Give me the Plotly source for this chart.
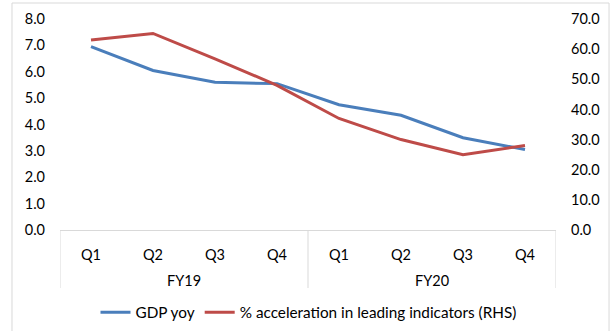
import plotly.graph_objects as go

years = ["FY19"] * 4 + ["FY20"] * 4
quarters = ["Q1", "Q2", "Q3", "Q4", "Q1", "Q2", "Q3", "Q4"]
gdp_yoy = [6.95, 6.05, 5.6, 5.55, 4.75, 4.35, 3.5, 3.05]
leading_accel = [63.0, 65.2, 56.8, 48.0, 37.0, 30.0, 25.0, 28.0]

FONT = "Lato"
FS = 14.5
GRID = "#d9d9d9"
cats = [f"{y} {q}" for y, q in zip(years, quarters)]

fig = go.Figure()
fig.add_trace(go.Scatter(x=cats, y=gdp_yoy, mode="lines", name="GDP yoy",
                         line=dict(color="#4a7ebb", width=3)))
fig.add_trace(go.Scatter(x=cats, y=leading_accel, mode="lines",
                         name="% acceleration in leading indicators (RHS)",
                         line=dict(color="#be4b48", width=3), yaxis="y2"))

# group labels and dividers from the category positions
groups = []
for i, y in enumerate(years):
    if not groups or groups[-1][0] != y:
        groups.append([y, i, i])
    else:
        groups[-1][2] = i

annotations = []
shapes = []
for name, a, b in groups:
    annotations.append(dict(x=(a + b) / 2, y=-0.237, xref="x", yref="paper", text=name,
                            showarrow=False, yanchor="middle", font=dict(size=FS)))
bounds = [groups[0][1] - 0.5] + [g[2] + 0.5 for g in groups]
for bx in bounds:
    shapes.append(dict(type="line", xref="x", yref="paper", x0=bx, x1=bx, y0=0, y1=-0.275,
                       line=dict(color=GRID, width=1)))
shapes.append(dict(type="rect", xref="paper", yref="paper", x0=-0.0968, x1=1.1069,
                   y0=-0.6, y1=1.0758, line=dict(color=GRID, width=1), layer="below"))

fig.update_layout(
    width=613, height=331,
    margin=dict(l=60, r=57, t=19, b=101, autoexpand=False),
    paper_bgcolor="white", plot_bgcolor="white",
    font=dict(family=FONT, size=FS, color="#000000"),
    showlegend=True,
    legend=dict(orientation="h", x=0.501, xanchor="center", y=-0.39, yanchor="middle",
                font=dict(size=15.3), itemwidth=30, tracegroupgap=0),
    xaxis=dict(type="category", range=[-0.5, len(cats) - 0.5], tickvals=cats,
               ticktext=quarters, showgrid=False, showline=True, linecolor=GRID,
               linewidth=1, ticks="", ticklabelstandoff=12, tickfont=dict(size=FS)),
    yaxis=dict(range=[0, 8], dtick=1, tickformat=".1f", showgrid=False, zeroline=False,
               showline=False, ticks="", ticklabelstandoff=14),
    yaxis2=dict(range=[0, 70], dtick=10, tickformat=".1f", showgrid=False, zeroline=False,
                showline=False, ticks="", overlaying="y", side="right", ticklabelstandoff=14),
    annotations=annotations,
    shapes=shapes,
)

fig.write_html("out.html")
